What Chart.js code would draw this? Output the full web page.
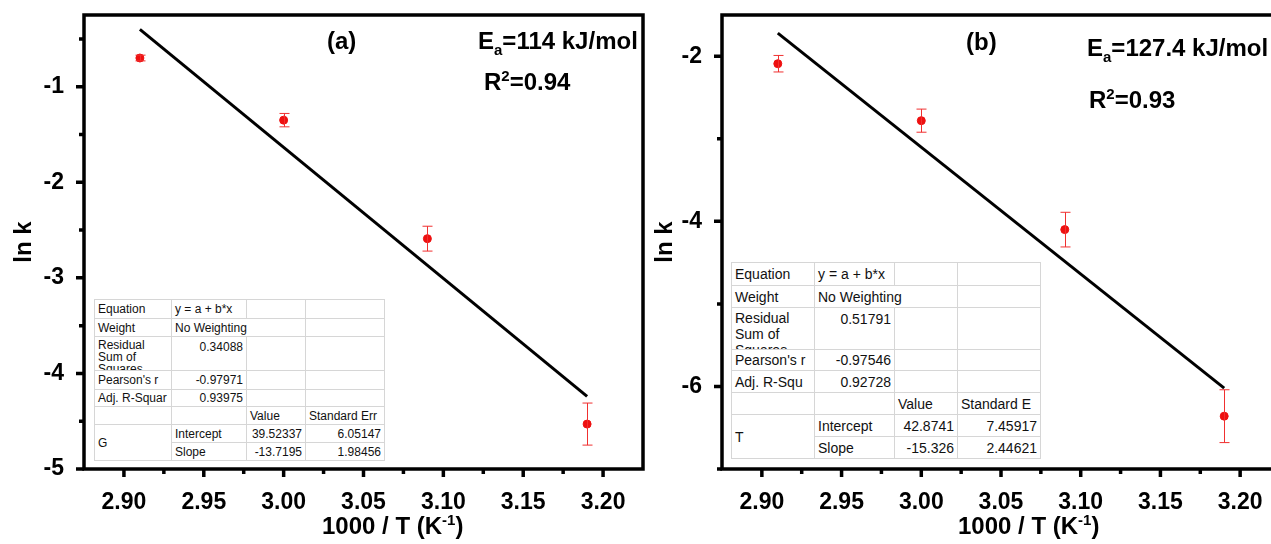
<!DOCTYPE html>
<html>
<head>
<meta charset="utf-8">
<script src="https://cdn.jsdelivr.net/npm/chart.js@4.4.1/dist/chart.umd.min.js"></script>
<style>
  html, body { margin: 0; padding: 0; background: #fff; overflow: hidden; width: 1271px; height: 544px; }
  body { position: relative; font-family: "Liberation Sans", Arial, sans-serif; }
  canvas { position: absolute; top: 0; }
  #chartA { left: 0; }
  #chartB { left: 645px; }
  .ann { position: absolute; font: bold 24px "Liberation Sans", Arial, sans-serif; line-height: 24px; color: #000; white-space: nowrap; }
  .ann sub { font-size: 15px; vertical-align: -6px; line-height: 0; }
  .ann sup { font-size: 15px; vertical-align: 9px; line-height: 0; }
  table.fit { position: absolute; border-collapse: collapse; table-layout: fixed; background: #fff; border: 1.5px solid #9a9a9a; color: #111; }
  table.fit td { border: 1px solid #d6d6d6; padding: 0 3px; vertical-align: middle; white-space: nowrap; overflow: hidden; }
  table.fit td.num { text-align: right; }
  table.fit td.top { vertical-align: top; }
  table.fit .clip { overflow: hidden; white-space: normal; }
  #tabA { left: 94px; top: 299px; width: 290px; font-size: 12px; }
  #tabB { left: 731px; top: 262px; width: 309px; font-size: 14px; }
</style>
</head>
<body>
<canvas id="chartA" width="660" height="544"></canvas>
<canvas id="chartB" width="640" height="544"></canvas>

<div class="ann" style="left:327px; top:29px;">(a)</div>
<div class="ann" style="left:478px; top:29px;">E<sub>a</sub>=114 kJ/mol</div>
<div class="ann" style="left:484px; top:70px;">R<sup>2</sup>=0.94</div>

<div class="ann" style="left:966px; top:30px;">(b)</div>
<div class="ann" style="left:1087px; top:36px;">E<sub>a</sub>=127.4 kJ/mol</div>
<div class="ann" style="left:1089px; top:88px;">R<sup>2</sup>=0.93</div>

<div class="ann" style="left:322px; top:514px;">1000 / T (K<sup>-1</sup>)</div>
<div class="ann" style="left:958px; top:514px;">1000 / T (K<sup>-1</sup>)</div>

<table class="fit" id="tabA">
  <colgroup><col style="width:77px"><col style="width:75px"><col style="width:59px"><col style="width:79px"></colgroup>
  <tr style="height:19px"><td>Equation</td><td>y = a + b*x</td><td></td><td></td></tr>
  <tr style="height:18px"><td>Weight</td><td colspan="2">No Weighting</td><td></td></tr>
  <tr style="height:32px"><td class="top"><div class="clip" style="height:31px;line-height:12px;padding-top:2px">Residual<br>Sum of<br>Squares</div></td><td class="num top" style="padding-top:3px">0.34088</td><td></td><td></td></tr>
  <tr style="height:19px"><td>Pearson's r</td><td class="num">-0.97971</td><td></td><td></td></tr>
  <tr style="height:17px"><td>Adj. R-Squar</td><td class="num">0.93975</td><td></td><td></td></tr>
  <tr style="height:18px"><td></td><td></td><td>Value</td><td>Standard Err</td></tr>
  <tr style="height:18px"><td rowspan="2">G</td><td>Intercept</td><td class="num">39.52337</td><td class="num">6.05147</td></tr>
  <tr style="height:18px"><td>Slope</td><td class="num">-13.7195</td><td class="num">1.98456</td></tr>
</table>

<table class="fit" id="tabB">
  <colgroup><col style="width:83px"><col style="width:80px"><col style="width:63px"><col style="width:83px"></colgroup>
  <tr style="height:23px"><td>Equation</td><td>y = a + b*x</td><td></td><td></td></tr>
  <tr style="height:22px"><td>Weight</td><td colspan="2">No Weighting</td><td></td></tr>
  <tr style="height:40px"><td class="top"><div class="clip" style="height:39px;line-height:16px;padding-top:2px">Residual<br>Sum of<br>Squares</div></td><td class="num top" style="padding-top:3px">0.51791</td><td></td><td></td></tr>
  <tr style="height:21px"><td>Pearson's r</td><td class="num">-0.97546</td><td></td><td></td></tr>
  <tr style="height:22px"><td>Adj. R-Squ</td><td class="num">0.92728</td><td></td><td></td></tr>
  <tr style="height:22px"><td></td><td></td><td>Value</td><td>Standard E</td></tr>
  <tr style="height:22px"><td rowspan="2">T</td><td>Intercept</td><td class="num">42.8741</td><td class="num">7.45917</td></tr>
  <tr style="height:22px"><td>Slope</td><td class="num">-15.326</td><td class="num">2.44621</td></tr>
</table>

<script>
// data
var invT = [2.91, 3.00, 3.09, 3.19];

var lnkA = [-0.70, -1.35, -2.59, -4.53];
var errA = [0.03, 0.07, 0.13, 0.22];
var fitXA = [2.91, 3.19];
var fitYA = [-0.40, -4.24];

var lnkB = [-2.09, -2.78, -4.10, -6.36];
var errB = [0.10, 0.14, 0.21, 0.32];
var fitXB = [2.91, 3.19];
var fitYB = [-1.72, -6.02];

var xTicks = [2.90, 2.95, 3.00, 3.05, 3.10, 3.15, 3.20];
var xTickLabels = ["2.90", "2.95", "3.00", "3.05", "3.10", "3.15", "3.20"];
var xMinor = [2.925, 2.975, 3.025, 3.075, 3.125, 3.175];

var yTicksA = [-5, -4, -3, -2, -1];
var yTickLabelsA = ["-5", "-4", "-3", "-2", "-1"];
var yMinorA = [-4.5, -3.5, -2.5, -1.5, -0.5];

var yTicksB = [-6, -4, -2];
var yTickLabelsB = ["-6", "-4", "-2"];
var yMinorB = [-7, -5, -3];

var FONT = "'Liberation Sans', Arial, sans-serif";

function pts(xs, ys) {
  return xs.map(function (x, i) { return { x: x, y: ys[i] }; });
}

// box frame, outward tick marks and error bars
function framePlugin(err, xMaj, xMin, yMaj, yMin) {
  return {
    id: "frame",
    afterDatasetsDraw: function (chart) {
      var ctx = chart.ctx;
      var xs = chart.scales.x, ys = chart.scales.y;
      var ds = chart.data.datasets[1].data;
      ctx.save();
      ctx.strokeStyle = "#f03030";
      ctx.lineWidth = 1;
      ds.forEach(function (p, i) {
        var px = Math.round(xs.getPixelForValue(p.x)) + 0.5;
        var y1 = ys.getPixelForValue(p.y + err[i]);
        var y2 = ys.getPixelForValue(p.y - err[i]);
        ctx.beginPath();
        ctx.moveTo(px, y1); ctx.lineTo(px, y2);
        ctx.moveTo(px - 5, y1); ctx.lineTo(px + 5, y1);
        ctx.moveTo(px - 5, y2); ctx.lineTo(px + 5, y2);
        ctx.stroke();
      });
      ctx.restore();
    },
    afterDraw: function (chart) {
      var ctx = chart.ctx;
      var a = chart.chartArea;
      var xs = chart.scales.x, ys = chart.scales.y;
      ctx.save();
      ctx.strokeStyle = "#000";
      ctx.lineWidth = 3.5;
      ctx.strokeRect(a.left, a.top, a.right - a.left, a.bottom - a.top);
      ctx.beginPath();
      xMaj.forEach(function (v) {
        var px = xs.getPixelForValue(v);
        ctx.moveTo(px, a.bottom); ctx.lineTo(px, a.bottom + 8);
      });
      xMin.forEach(function (v) {
        var px = xs.getPixelForValue(v);
        ctx.moveTo(px, a.bottom); ctx.lineTo(px, a.bottom + 5);
      });
      yMaj.forEach(function (v) {
        var py = ys.getPixelForValue(v);
        ctx.moveTo(a.left, py); ctx.lineTo(a.left - 8, py);
      });
      yMin.forEach(function (v) {
        var py = ys.getPixelForValue(v);
        ctx.moveTo(a.left, py); ctx.lineTo(a.left - 5, py);
      });
      ctx.stroke();
      ctx.restore();
    }
  };
}

function makeChart(id, lnk, err, fitX, fitY, yMin, yMax, yTicks, yLabels, yMinor, yWidth, titlePad, rightPad) {
  return new Chart(document.getElementById(id), {
    type: "scatter",
    data: {
      datasets: [
        {
          type: "line",
          data: pts(fitX, fitY),
          borderColor: "#000",
          borderWidth: 3,
          pointRadius: 0,
          fill: false
        },
        {
          data: pts(invT, lnk),
          backgroundColor: "#ee1010",
          borderColor: "#ee1010",
          pointRadius: 4,
          pointHoverRadius: 4
        }
      ]
    },
    options: {
      responsive: false,
      animation: false,
      layout: { padding: { top: 15, right: rightPad, bottom: 0, left: 0 } },
      plugins: {
        legend: { display: false },
        tooltip: { enabled: false }
      },
      scales: {
        x: {
          type: "linear",
          min: 2.875,
          max: 3.225,
          grid: { display: false },
          border: { display: false },
          afterBuildTicks: function (s) {
            s.ticks = xTicks.map(function (v) { return { value: v }; });
          },
          afterFit: function (s) {
            s.height = 75;
            s.paddingLeft = 0;
            s.paddingRight = 0;
          },
          ticks: {
            autoSkip: false,
            maxRotation: 0,
            padding: 12,
            color: "#000",
            font: { family: FONT, size: 23, weight: "bold" },
            callback: function (v, i) { return xTickLabels[i]; }
          }
        },
        y: {
          type: "linear",
          min: yMin,
          max: yMax,
          grid: { display: false },
          border: { display: false },
          afterBuildTicks: function (s) {
            s.ticks = yTicks.map(function (v) { return { value: v }; });
          },
          afterFit: function (s) {
            s.width = yWidth;
            s.paddingTop = 0;
            s.paddingBottom = 0;
          },
          ticks: {
            padding: 12,
            color: "#000",
            font: { family: FONT, size: 23, weight: "bold" },
            callback: function (v, i) { return yLabels[i]; }
          },
          title: {
            display: true,
            text: "ln k",
            color: "#000",
            font: { family: FONT, size: 24, weight: "bold" },
            padding: { top: titlePad, bottom: 0 }
          }
        }
      }
    },
    plugins: [framePlugin(err, xTicks, xMinor, yTicks, yMinor)]
  });
}

makeChart("chartA", lnkA, errA, fitXA, fitYA, -5, -0.25, yTicksA, yTickLabelsA, yMinorA, 84, 10, 17);
makeChart("chartB", lnkB, errB, fitXB, fitYB, -7, -1.5, yTicksB, yTickLabelsB, yMinorB, 77, 6, 4);
</script>
</body>
</html>
